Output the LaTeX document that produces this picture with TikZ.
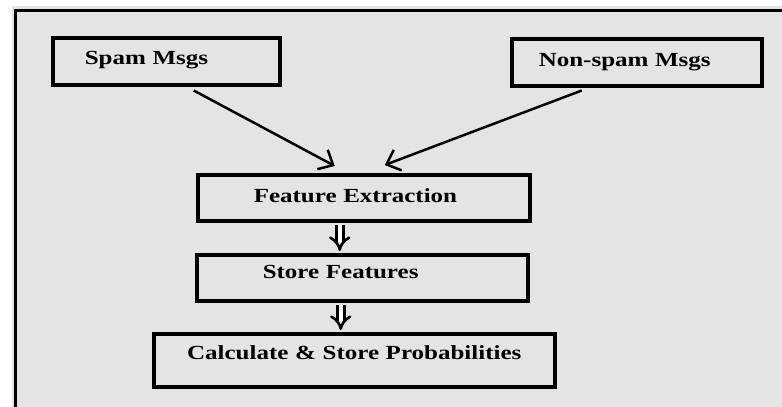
\documentclass[tikz,border=0pt]{standalone}
\usepackage{fontspec}
\usepackage{xcolor}
\usepackage{tikz}
\newfontfamily\boxfont[FakeStretch=1.25]{Liberation Serif}
\definecolor{bggray}{RGB}{228,228,228}
\usetikzlibrary{shapes,arrows,positioning,calc,arrows.meta}

\tikzset{
    msgbox/.style={draw, line width=3.5pt, inner ysep=0pt, align=left, anchor=north west,
        font=\boxfont\bfseries\fontsize{20}{24}\selectfont},
    flowarrow/.style={line width=2.5pt, -{Straight Barb[length=12pt,width=22pt]}},
    dblarrow/.style={double=white, double distance=4.5pt, line width=2.6pt, -{Implies}}
}

\begin{document}
\begin{tikzpicture}[x=1pt, y=-1pt]
    \useasboundingbox (0,0) rectangle (782,407);
    \fill[white] (0,0) rectangle (782,407);
    \fill[bggray] (12,6) rectangle (782,407);
    % Frame
    \draw[line width=3pt] (15,407) -- (15,10) -- (782,10);

    % Messages
    \node[msgbox, inner xsep=32pt, text width=163pt, text height=27pt, text depth=20pt] (spam) at (51,36) {Spam Msgs};
    \node[msgbox, inner xsep=27pt, text width=196pt, text height=28pt, text depth=19pt] (nonspam) at (510,37) {Non-spam Msgs};

    % Pipeline
    \node[msgbox, inner xsep=56pt, text width=220pt, text height=28pt, text depth=18pt] (extract) at (196,173) {Feature Extraction};
    \node[msgbox, inner xsep=66pt, text width=199pt, text height=24pt, text depth=22pt] (store) at (195,253) {Store Features};
    \node[msgbox, align=center, inner xsep=20pt, text width=361pt, text height=26pt, text depth=27pt] (prob) at (152,332) {Calculate \& Store Probabilities};

    % Connectors
    \draw[flowarrow] ([xshift=27.5pt, yshift=-4pt]spam.south) -- ([xshift=-29pt, yshift=7pt]extract.north);
    \draw[flowarrow] ([xshift=-55pt, yshift=-3pt]nonspam.south) -- ([xshift=21pt, yshift=8pt]extract.north);
    \draw[dblarrow] ([xshift=-24pt, yshift=-2pt]extract.south) -- ([xshift=-22.5pt, yshift=2pt]store.north);
    \draw[dblarrow] ([xshift=-21.5pt, yshift=-2pt]store.south) -- ([xshift=-13.5pt, yshift=2pt]prob.north);
\end{tikzpicture}
\end{document}
